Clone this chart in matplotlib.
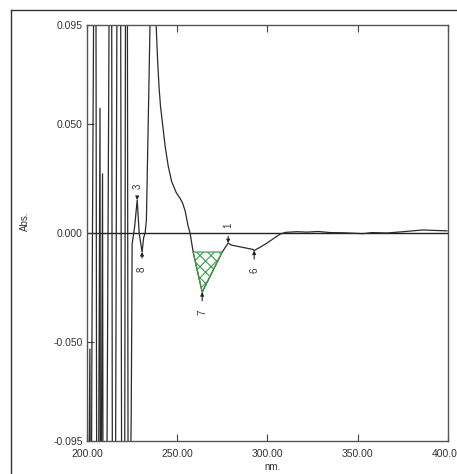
import numpy as np
import matplotlib
matplotlib.use("Agg")
import matplotlib.pyplot as plt
from matplotlib.lines import Line2D

plt.rcParams['font.family'] = ['Liberation Sans', 'DejaVu Sans']
plt.rcParams['hatch.linewidth'] = 0.8

# spectrum trace (nm, Abs.)
wl = [200.0, 200.4, 201.7, 202.2, 202.9, 204.4, 204.9, 205.6, 206.1, 207.3,
      207.6, 208.7, 209.1, 210.6, 212.9, 213.6, 214.3, 215.6, 217.0, 218.5,
      219.5, 220.8, 221.6, 222.3, 223.0, 224.6, 225.1, 226.5, 227.9, 229.0,
      230.6, 231.5, 232.3, 233.0, 234.0, 235.0, 236.0, 237.8, 238.4, 239.2,
      240.0, 240.8, 241.7, 243.4, 245.1, 247.0, 249.5, 250.5, 251.7, 253.0,
      254.5, 256.1, 257.2, 258.9, 263.9,
      275.0, 278.3, 280.0, 286.0, 292.1, 292.7, 296.0, 300.0, 304.0, 307.1,
      310.0, 316.5, 322.0, 328.1, 334.7, 342.0, 353.0, 358.0, 366.3, 375.2,
      386.2, 392.0, 399.5]
absb = [0.046, -0.2, -0.053, -0.2, -0.034, 0.2, 0.2, -0.2, -0.2, 0.057,
        -0.2, 0.027, -0.2, -0.2, 0.2, 0.2, -0.2, -0.2, 0.2, 0.2,
        -0.2, -0.2, 0.2, 0.2, -0.2, -0.082, -0.005, 0.003, 0.0151, 0.0,
        -0.0087, -0.002, 0.0, 0.006, 0.05, 0.095, 0.2, 0.2, 0.095, 0.079,
        0.0667, 0.058, 0.0516, 0.0395, 0.0305, 0.0235, 0.0185, 0.0172, 0.0158, 0.0138,
        0.0100, 0.0032, 0.0, -0.0087, -0.027,
        -0.0087, -0.0046, -0.0055, -0.0065, -0.0075, -0.0080, -0.0065, -0.0045, -0.0022, -0.0005,
        0.0003, 0.0006, 0.0004, 0.0007, 0.0002, 0.0001, -0.0003, 0.0002, 0.0, 0.0006,
        0.0014, 0.0012, 0.001]

# hatched peak area (peak 7)
area_wl = [258.9, 263.9, 275.0]
area_abs = [-0.0087, -0.027, -0.0087]
area_base = -0.0087

# peak picks: label, wavelength, value, label position
pick_labels = ['3', '8', '7', '1', '6']
pick_wl = [227.9, 230.6, 263.9, 278.3, 292.7]
pick_abs = [0.0151, -0.0087, -0.027, -0.0046, -0.0080]
pick_text_y = [0.0215, -0.0165, -0.036, 0.0035, -0.0170]

xticks = [200, 250, 300, 350, 400]
yticks = [0.095, 0.050, 0.000, -0.050, -0.095]

fig = plt.figure(figsize=(4.57, 4.74), dpi=100)
ax = fig.add_axes([0.190, 0.0696, 0.790, 0.8776])

ax.axhline(0, color='#222222', lw=1.0, zorder=1)
ax.plot(wl, absb, color='#2a2a2a', lw=0.9, zorder=2)
ax.fill_between(area_wl, area_abs, area_base, facecolor='none',
                edgecolor='#3aa04a', hatch='xxx', lw=0.9, zorder=3)

for lab, x, y, ty in zip(pick_labels, pick_wl, pick_abs, pick_text_y):
    ax.annotate(lab, xy=(x, y), xytext=(x, ty), rotation=90,
                ha='center', va='center', fontsize=7, color='#333333',
                arrowprops=dict(arrowstyle='-|>', color='#222222', lw=0.8,
                                mutation_scale=5, shrinkA=4, shrinkB=0))

ax.set_xlim(200, 400)
ax.set_ylim(-0.095, 0.095)
ax.set_xticks(xticks)
ax.set_xticklabels(['%.2f' % v for v in xticks])
ax.set_yticks(yticks)
ax.set_yticklabels(['%.3f' % v for v in yticks])
ax.tick_params(axis='x', direction='in', length=5, top=True, labelsize=7.5,
               labelcolor='#333333', color='#444444', pad=6)
ax.tick_params(axis='y', direction='in', length=5, labelsize=7.5,
               labelcolor='#333333', color='#444444', pad=3)
for s in ax.spines.values():
    s.set_color('#555555')
    s.set_linewidth(1.0)

fig.text(272 / 457, 1 - 467 / 474, 'nm.', ha='center', va='center',
         fontsize=7, color='#333333')
fig.text(25 / 457, 1 - 221 / 474, 'Abs.', ha='center', va='center',
         rotation=90, fontsize=7, color='#333333')

# outer frame of the screenshot
fig.add_artist(Line2D([11 / 457, 11 / 457], [0, 1 - 10 / 474],
                      transform=fig.transFigure, color='#333333', lw=1.0))
fig.add_artist(Line2D([11 / 457, 1], [1 - 10 / 474, 1 - 10 / 474],
                      transform=fig.transFigure, color='#333333', lw=1.0))

fig.savefig('out.png', dpi=100)
